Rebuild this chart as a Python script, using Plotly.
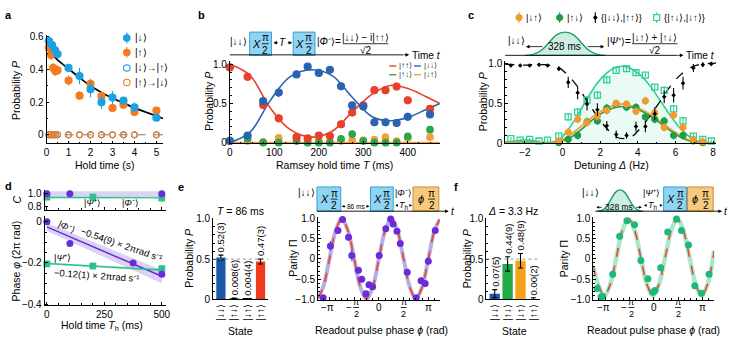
import math
import plotly.graph_objects as go

W, H = 735, 344
FONT = "Liberation Sans, Arial, Helvetica, sans-serif"
PI = math.pi

# ---------------- colours ----------------
A_BLUE, A_ORANGE = "#1ba1e2", "#f47b20"
B_RED, B_BLUE, B_GREEN, B_ORANGE = "#e8402a", "#2a64b0", "#2aa84a", "#f2a03a"
C_ORANGE, C_GREEN, C_TEAL = "#f29a2e", "#1f9e4a", "#2fcf93"
PURPLE, D_GREEN = "#6c2bd9", "#2dc08c"
BOX_BLUE, BOX_BLUE_EDGE = "#8fd4f2", "#2f9fd6"
BOX_OR, BOX_OR_EDGE = "#f7c97e", "#c98a2a"
BELL_FILL, BELL_EDGE = "#cdeee0", "#1f9f6a"
BAR_BLUE, BAR_GREEN, BAR_RED, BAR_ORANGE = "#1a5aa8", "#22aa44", "#f03a1e", "#f7a21c"
DASH_RED = "#f04424"

# ---------------- data : panel a ----------------
A_T_DOWN = [0.1, 0.25, 0.38, 0.5, 1.0, 1.5, 2.0, 2.5, 3.0, 3.5, 4.0, 5.0]
A_P_DOWN = [0.575, 0.55, 0.52, 0.495, 0.41, 0.36, 0.28, 0.20, 0.228, 0.21, 0.168, 0.105]
A_E_DOWN = [0.03, 0.04, 0.03, 0.02, 0.02, 0.05, 0.05, 0.04, 0.04, 0.02, 0.03, 0.02]
A_T_UP = [0.1, 0.2, 0.3, 0.4, 0.5, 1.0, 1.5, 2.0, 2.5, 3.0, 3.5, 4.0, 5.0]
A_P_UP = [0.535, 0.49, 0.41, 0.39, 0.396, 0.333, 0.24, 0.313, 0.238, 0.164, 0.184, 0.14, 0.149]
A_E_UP = [0.02, 0.03, 0.03, 0.03, 0.03, 0.03, 0.025, 0.03, 0.02, 0.015, 0.02, 0.015, 0.015]
A_T_FLIP = [0.1, 0.2, 0.3, 0.4, 0.5, 1.0, 1.5, 2.0, 2.5, 3.0, 3.5, 4.0, 5.0]
A_P_FLIP_DU = [0.0, 0.0, 0.0, 0.0, 0.0, 0.0, 0.0, 0.0, 0.0, 0.0, 0.0, 0.0, 0.0]
A_P_FLIP_UD = [0.0, 0.0, 0.0, 0.0, 0.0, 0.0, 0.0, 0.0, 0.0, 0.0, 0.0, 0.0, 0.0]
A_FIT_T = [0, 0.5, 1, 1.5, 2, 2.5, 3, 3.5, 4, 4.5, 5, 5.3]
A_FIT_P = [0.53, 0.46, 0.405, 0.35, 0.30, 0.26, 0.225, 0.195, 0.165, 0.14, 0.115, 0.10]
A_ZERO_T = [0, 5.3]
A_ZERO_P = [0, 0]

# ---------------- data : panel b ----------------
B_T = [0, 40, 75, 110, 150, 175, 200, 225, 250, 275, 300, 325, 350, 375, 400, 450]
B_UU = [0.96, 0.84, 0.48, 0.31, 0.07, 0.055, 0.09, 0.085, 0.235, 0.385, 0.475, 0.67, 0.67, 0.715, 0.54, 0.43]
B_UU_E = [0.03, 0.05, 0.05, 0.05, 0.04, 0.03, 0.04, 0.04, 0.05, 0.05, 0.05, 0.05, 0.05, 0.05, 0.04, 0.05]
B_DD = [0.02, 0.09, 0.53, 0.64, 0.87, 0.97, 0.89, 0.93, 0.72, 0.475, 0.46, 0.26, 0.26, 0.25, 0.33, 0.36]
B_DD_E = [0.02, 0.04, 0.05, 0.06, 0.04, 0.03, 0.04, 0.04, 0.05, 0.05, 0.05, 0.05, 0.05, 0.05, 0.05, 0.05]
B_UD = [0.03, 0.05, 0.0, 0.0, 0.02, 0.0, 0.0, 0.0, 0.05, 0.11, 0.02, 0.0, 0.0, 0.0, 0.08, 0.165]
B_DU = [0.02, 0.02, 0.01, 0.06, 0.06, 0.02, 0.03, 0.01, 0.02, 0.03, 0.03, 0.04, 0.07, 0.02, 0.06, 0.07]
B_SMALL_E = [0.02, 0.02, 0.01, 0.02, 0.02, 0.01, 0.02, 0.01, 0.02, 0.03, 0.02, 0.02, 0.02, 0.02, 0.03, 0.03]
B_FIT_T = [0, 45, 90, 135, 185, 230, 275, 320, 360, 400, 440, 472]
B_FIT_UU = [1.0, 0.86, 0.45, 0.17, 0.07, 0.145, 0.39, 0.62, 0.73, 0.69, 0.59, 0.5]
B_FIT_DD = [0.0, 0.13, 0.53, 0.84, 0.93, 0.855, 0.58, 0.33, 0.28, 0.32, 0.42, 0.5]
B_FIT_SMALL = [0, 0, 0, 0, 0, 0, 0, 0, 0, 0, 0, 0]

# ---------------- data : panel c ----------------
C_D = [-2.75, -2.25, -1.75, -1.25, -0.8, -0.2, 0.3, 0.8, 1.3, 1.85, 2.35, 2.85,
       3.4, 3.9, 4.4, 4.9, 5.4, 5.9, 6.4, 6.95, 7.45, 7.9]
C_BLACK = [0.97, 0.97, 0.97, 0.98, 0.97, 0.93, 0.76, 0.63, 0.49, 0.42, 0.22, 0.11,
           0.10, 0.21, 0.21, 0.37, 0.58, 0.60, 0.75, 0.94, 0.98, 0.99]
C_BLACK_E = [0.02, 0.02, 0.02, 0.02, 0.02, 0.03, 0.07, 0.08, 0.08, 0.08, 0.06, 0.05,
             0.04, 0.06, 0.07, 0.08, 0.08, 0.09, 0.08, 0.05, 0.03, 0.02]
C_TEALP = [0.06, 0.04, 0.05, 0.03, 0.04, 0.09, 0.33, 0.39, 0.54, 0.60, 0.79, 0.91,
           0.93, 0.88, 0.85, 0.70, 0.66, 0.43, 0.28, 0.09, 0.05, 0.03]
C_TEAL_E = [0.02, 0.02, 0.02, 0.02, 0.02, 0.03, 0.05, 0.05, 0.05, 0.05, 0.04, 0.03,
            0.03, 0.03, 0.03, 0.04, 0.05, 0.05, 0.05, 0.04, 0.03, 0.02]
C_ORANGEP = [None, None, None, None, None, 0.03, 0.14, 0.30, 0.26, 0.34, 0.41, 0.50,
             0.49, 0.40, 0.53, 0.38, 0.20, 0.35, 0.20, 0.05, 0.02, None]
C_GREENP = [None, None, None, None, None, 0.01, 0.05, 0.10, 0.27, 0.28, 0.44, 0.49,
            0.45, 0.45, 0.33, 0.30, 0.28, 0.10, 0.10, 0.03, 0.01, None]
C_SMALL_E = [0.03, 0.03, 0.03, 0.03, 0.03, 0.03, 0.04, 0.05, 0.05, 0.05, 0.05, 0.05,
             0.05, 0.05, 0.05, 0.05, 0.05, 0.05, 0.05, 0.03, 0.03, 0.03]
C_FIT_D = [-3.05, -2.5, -2.0, -1.5, -1.0, -0.5, -0.17, 0.32, 0.82, 1.32, 1.84, 2.37,
           2.86, 3.25, 3.65, 4.14, 4.67, 5.2, 5.72, 6.25, 6.77, 7.3, 7.8, 8.16]
C_FIT_TEAL = [0.02, 0.03, 0.045, 0.03, 0.01, 0.02, 0.05, 0.18, 0.36, 0.56, 0.75, 0.88,
              0.95, 0.96, 0.93, 0.85, 0.71, 0.53, 0.35, 0.19, 0.08, 0.02, 0.01, 0.0]
C_FIT_ORANGE = [0.01, 0.015, 0.02, 0.015, 0.005, 0.01, 0.03, 0.09, 0.18, 0.28, 0.37, 0.44,
                0.48, 0.49, 0.47, 0.43, 0.36, 0.27, 0.18, 0.10, 0.04, 0.01, 0.005, 0.0]
C_FIT_GREEN = [0.01, 0.015, 0.02, 0.015, 0.005, 0.005, 0.02, 0.06, 0.14, 0.24, 0.34, 0.41,
               0.45, 0.46, 0.45, 0.41, 0.34, 0.25, 0.16, 0.08, 0.03, 0.01, 0.0, 0.0]
C_FIT_BLACK = [0.985, 0.98, 0.975, 0.98, 0.98, 0.965, 0.94, 0.84, 0.70, 0.52, 0.34, 0.18,
               0.08, 0.06, 0.08, 0.19, 0.35, 0.53, 0.71, 0.85, 0.94, 0.985, 0.995, 1.0]

# ---------------- data : panel d ----------------
D_C_T_PHI = [0, 100, 500]
D_C_PHI = [1.0, 1.0, 1.0]
D_C_T_PSI = [0, 200, 500]
D_C_PSI = [0.95, 0.95, 0.935]
D_C_BAND_T = [0, 500, 500, 0]
D_C_BAND_PHI = [1.04, 1.04, 0.96, 0.96]
D_C_BAND_PSI = [0.965, 0.965, 0.92, 0.92]
D_C_LINE_T = [0, 500]
D_C_LINE_PSI = [0.945, 0.94]
D_T_PHI = [0, 100, 375, 500]
D_PHI = [0.0, -0.105, -0.2, -0.255]
D_T_PSI = [0, 200, 500]
D_PSI = [-0.205, -0.215, -0.228]
D_LINE_T = [0, 500]
D_LINE_PHI = [-0.025, -0.265]
D_LINE_PSI = [-0.203, -0.235]
D_BAND_T = [0, 500, 500, 0]
D_BAND_PHI = [-0.005, -0.235, -0.3, -0.045]
D_BAND_PSI = [-0.198, -0.228, -0.242, -0.208]

# ---------------- data : panel e ----------------
STATES = ["|↓↓⟩", "|↑↓⟩", "|↓↑⟩", "|↑↑⟩"]
E_VALS = [0.52, 0.008, 0.004, 0.47]
E_ERR = [0.03, 0.006, 0.004, 0.03]
E_LABELS = ["0.52(3)", "0.008(6)", "0.004(4)", "0.47(3)"]
E_PHI = [-3.54, -3.08, -2.6, -2.31, -1.93, -1.72, -1.30, -1.09, -0.82, -0.63, -0.40, 0.02,
         0.44, 0.75, 0.90, 1.15, 1.36, 1.80, 2.37, 2.68, 2.94, 3.14, 3.58]
E_PAR = [-0.96, 0.32, 0.70, 0.97, 0.53, 0.08, -0.28, -0.50, -0.86, -0.64, -0.69, 0.08,
         0.74, 0.98, 0.86, 0.68, 0.38, -0.33, -0.96, -0.54, -0.61, -0.06, 0.70]
E_PAR_E = [0.04, 0.12, 0.06, 0.04, 0.08, 0.14, 0.08, 0.08, 0.05, 0.08, 0.08, 0.08,
           0.06, 0.03, 0.05, 0.07, 0.08, 0.06, 0.04, 0.08, 0.09, 0.08, 0.06]
E_FIT_PHI = [-3.87, -3.53, -3.14, -2.75, -2.36, -1.96, -1.57, -1.18, -0.79, -0.39, 0.0,
             0.39, 0.78, 1.18, 1.57, 1.96, 2.35, 2.75, 3.14, 3.53, 3.87]
E_FIT = [-0.97, -0.69, 0.0, 0.69, 0.98, 0.69, 0.0, -0.69, -0.98, -0.69, 0.0,
         0.69, 0.98, 0.69, 0.0, -0.69, -0.98, -0.69, 0.0, 0.69, 0.97]

# ---------------- data : panel f ----------------
F_VALS = [0.07, 0.44, 0.48, 0.00]
F_ERR = [0.05, 0.09, 0.09, 0.02]
F_LABELS = ["0.07(5)", "0.44(9)", "0.48(9)", "0.00(2)"]
F_PHI = [-3.65, -3.40, -3.30, -2.65, -2.20, -1.73, -1.24, -0.83, -0.38, -0.06, 0.08,
         0.45, 0.90, 1.47, 1.79, 2.24, 2.65, 3.08, 3.57]
F_PAR = [-0.73, -0.94, -0.92, -0.38, 0.56, 0.94, 0.84, -0.04, -0.49, -0.82, -0.78,
         -0.22, 0.66, 0.98, 0.70, 0.34, -0.66, -0.85, -0.38]
F_PAR_E = [0.05, 0.04, 0.04, 0.05, 0.05, 0.03, 0.04, 0.05, 0.06, 0.05, 0.05,
           0.05, 0.05, 0.03, 0.05, 0.06, 0.05, 0.08, 0.06]
F_FIT_PHI = [-3.9, -3.6, -3.2, -2.8, -2.41, -2.02, -1.62, -1.23, -0.84, -0.45, -0.05,
             0.34, 0.74, 1.13, 1.52, 1.91, 2.31, 2.7, 3.09, 3.48, 3.9]
F_FIT = [-0.2, -0.62, -0.90, -0.62, 0.04, 0.70, 0.98, 0.70, 0.04, -0.62, -0.90,
         -0.62, 0.04, 0.70, 0.98, 0.70, 0.04, -0.62, -0.90, -0.62, 0.2]

# ---------------- helpers ----------------
shapes, annos = [], []


def px(x):
    return x / W


def py(y):
    return 1 - y / H


def text(x, y, s, size=10, color="black", xa="center", ya="middle", angle=0):
    annos.append(dict(x=px(x), y=py(y), xref="paper", yref="paper", text=s, showarrow=False,
                      xanchor=xa, yanchor=ya, textangle=angle, borderpad=0,
                      font=dict(size=size, color=color, family=FONT)))


def line(x0, y0, x1, y1, color="black", width=1, dash="solid"):
    shapes.append(dict(type="line", xref="paper", yref="paper", x0=px(x0), y0=py(y0),
                       x1=px(x1), y1=py(y1), line=dict(color=color, width=width, dash=dash)))


def rect(x0, y0, x1, y1, fill, edge, width=1):
    shapes.append(dict(type="rect", xref="paper", yref="paper", x0=px(x0), y0=py(y1),
                       x1=px(x1), y1=py(y0), fillcolor=fill, line=dict(color=edge, width=width)))


def circle(cx, cy, r, fill, edge, width=1):
    shapes.append(dict(type="circle", xref="paper", yref="paper", x0=px(cx - r), y0=py(cy + r),
                       x1=px(cx + r), y1=py(cy - r), fillcolor=fill, line=dict(color=edge, width=width)))


def arrow(xt, yt, xs, ys, color="black", width=0.8, size=0.9):
    annos.append(dict(x=px(xt), y=py(yt), xref="paper", yref="paper", text="",
                      showarrow=True, ax=xs - xt, ay=ys - yt, axref="pixel", ayref="pixel",
                      arrowhead=2, arrowsize=size, arrowwidth=width, arrowcolor=color,
                      standoff=0, startstandoff=0, font=dict(size=1)))


def frac(xc, yc, num, den, w, size=10):
    text(xc, yc - 6, num, size)
    line(xc - w / 2, yc, xc + w / 2, yc, width=0.8)
    text(xc, yc + 6.5, den, size)


def pbox(x0, y0, x1, y1, fill, edge, sym):
    rect(x0, y0, x1, y1, fill, edge)
    ym = (y0 + y1) / 2
    text(x0 + (x1 - x0) * 0.3, ym, f"<i>{sym}</i>", 11)
    frac(x0 + (x1 - x0) * 0.72, ym, "π", "2", 7, 10)


def bell(x0, x1, yb, yp, fill, edge):
    w = x1 - x0
    xm = (x0 + x1) / 2
    p = [(x0, yb), (x0 + 0.3 * w, yb), (xm - 0.2 * w, yp), (xm, yp),
         (xm + 0.2 * w, yp), (x1 - 0.3 * w, yb), (x1, yb)]
    q = [f"{px(a):.5f},{py(b):.5f}" for a, b in p]
    path = f"M {q[0]} C {q[1]} {q[2]} {q[3]} C {q[4]} {q[5]} {q[6]} Z"
    shapes.append(dict(type="path", xref="paper", yref="paper", path=path,
                       fillcolor=fill, line=dict(color=edge, width=1.4)))


def xa(x0, x1, rng, anchor, **kw):
    d = dict(domain=[x0 / W, x1 / W], range=rng, anchor=anchor, showline=True, linecolor="black",
             linewidth=0.8, ticks="inside", ticklen=3, tickwidth=0.8, tickcolor="black",
             showgrid=False, zeroline=False, fixedrange=True,
             tickfont=dict(size=10, family=FONT, color="black"))
    d.update(kw)
    return d


def ya(y0, y1, rng, anchor, **kw):
    d = dict(domain=[1 - y1 / H, 1 - y0 / H], range=rng, anchor=anchor, showline=True,
             linecolor="black", linewidth=0.8, ticks="inside", ticklen=3, tickwidth=0.8,
             tickcolor="black", showgrid=False, zeroline=False, fixedrange=True,
             tickfont=dict(size=10, family=FONT, color="black"))
    d.update(kw)
    return d


def minor(dt, t0=0):
    return dict(ticks="inside", ticklen=2, tickwidth=0.6, tickcolor="black", tickmode="linear",
                tick0=t0, dtick=dt)


fig = go.Figure()


def pts(x, y, err, color, ax, symbol="circle", size=7, lw=1.2, ecolor=None):
    fig.add_trace(go.Scatter(
        x=x, y=y, mode="markers", xaxis="x" + ax, yaxis="y" + ax,
        marker=dict(color=color, size=size, symbol=symbol, line=dict(color=color, width=lw)),
        error_y=(dict(type="data", array=err, color=ecolor or color, thickness=1.1, width=0)
                 if err is not None else None),
        cliponaxis=False, hoverinfo="skip"))


def curve(x, y, color, ax, width=1.5, dash="solid", shape="spline", fill=None, fillcolor=None):
    fig.add_trace(go.Scatter(
        x=x, y=y, mode="lines", xaxis="x" + ax, yaxis="y" + ax,
        line=dict(color=color, width=width, dash=dash, shape=shape, smoothing=1.0),
        fill=fill, fillcolor=fillcolor, hoverinfo="skip"))


# ================= panel a =================
curve(A_ZERO_T, A_ZERO_P, "#777777", "", width=1, dash="dash", shape="linear")
curve(A_FIT_T, A_FIT_P, "black", "", width=1.7)
pts(A_T_FLIP, A_P_FLIP_DU, None, A_BLUE, "", symbol="circle-open", size=6)
pts(A_T_FLIP, A_P_FLIP_UD, None, A_ORANGE, "", symbol="circle-open", size=6)
pts(A_T_UP, A_P_UP, A_E_UP, A_ORANGE, "")
pts(A_T_DOWN, A_P_DOWN, A_E_DOWN, A_BLUE, "")

# ================= panel b =================
curve(B_FIT_T, B_FIT_SMALL, B_ORANGE, "2", width=1.6, shape="linear")
curve(B_FIT_T, B_FIT_UU, B_RED, "2", width=1.6)
curve(B_FIT_T, B_FIT_DD, B_BLUE, "2", width=1.6)
pts(B_T, B_DU, B_SMALL_E, B_ORANGE, "2", size=6.5)
pts(B_T, B_UD, B_SMALL_E, B_GREEN, "2", size=6.5)
pts(B_T, B_UU, B_UU_E, B_RED, "2", size=7)
pts(B_T, B_DD, B_DD_E, B_BLUE, "2", size=7)

# ================= panel c =================
curve(C_FIT_D, C_FIT_TEAL, C_TEAL, "3", width=1.6, fill="tozeroy",
      fillcolor="rgba(47,207,147,0.10)")
curve(C_FIT_D, C_FIT_GREEN, C_GREEN, "3", width=1.6)
curve(C_FIT_D, C_FIT_ORANGE, C_ORANGE, "3", width=1.6)
curve(C_FIT_D, C_FIT_BLACK, "black", "3", width=1.3, dash="dash")
pts(C_D, C_TEALP, C_TEAL_E, C_TEAL, "3", symbol="square-open", size=6, lw=1.3)
pts(C_D, C_GREENP, C_SMALL_E, C_GREEN, "3", size=6)
pts(C_D, C_ORANGEP, C_SMALL_E, C_ORANGE, "3", size=6)
pts(C_D, C_BLACK, C_BLACK_E, "black", "3", symbol="diamond", size=3.5, lw=0)

# ================= panel d =================
fig.add_trace(go.Scatter(x=D_C_BAND_T, y=D_C_BAND_PHI, mode="lines", fill="toself",
                         fillcolor="rgba(150,130,220,0.35)", line=dict(width=0),
                         xaxis="x4", yaxis="y4", hoverinfo="skip"))
fig.add_trace(go.Scatter(x=D_C_BAND_T, y=D_C_BAND_PSI, mode="lines", fill="toself",
                         fillcolor="rgba(45,192,140,0.25)", line=dict(width=0),
                         xaxis="x4", yaxis="y4", hoverinfo="skip"))
curve(D_C_LINE_T, D_C_LINE_PSI, D_GREEN, "4", width=1.2, shape="linear")
pts(D_C_T_PSI, D_C_PSI, None, D_GREEN, "4", symbol="square", size=6, lw=0.8)
pts(D_C_T_PHI, D_C_PHI, None, PURPLE, "4", size=7, lw=0)

fig.add_trace(go.Scatter(x=D_BAND_T, y=D_BAND_PHI, mode="lines", fill="toself",
                         fillcolor="rgba(150,130,220,0.35)", line=dict(width=0),
                         xaxis="x5", yaxis="y5", hoverinfo="skip"))
fig.add_trace(go.Scatter(x=D_BAND_T, y=D_BAND_PSI, mode="lines", fill="toself",
                         fillcolor="rgba(45,192,140,0.25)", line=dict(width=0),
                         xaxis="x5", yaxis="y5", hoverinfo="skip"))
curve(D_LINE_T, D_LINE_PHI, PURPLE, "5", width=1.5, shape="linear")
curve(D_LINE_T, D_LINE_PSI, D_GREEN, "5", width=1.5, shape="linear")
pts(D_T_PSI, D_PSI, None, D_GREEN, "5", symbol="square", size=6, lw=0.8)
pts(D_T_PHI, D_PHI, None, PURPLE, "5", size=7, lw=0)

# ================= panel e =================
fig.add_trace(go.Bar(x=[0, 1, 2, 3], y=E_VALS, width=0.7, xaxis="x6", yaxis="y6",
                     marker=dict(color=[BAR_BLUE, BAR_GREEN, "black", BAR_RED], line=dict(width=0)),
                     error_y=dict(type="data", array=E_ERR, color="black", thickness=1.1, width=2.5),
                     hoverinfo="skip"))
curve(E_FIT_PHI, E_FIT, "#b3aee6", "7", width=4)
curve(E_FIT_PHI, E_FIT, DASH_RED, "7", width=1.6, dash="dash")
pts(E_PHI, E_PAR, E_PAR_E, PURPLE, "7", size=7, lw=0)

# ================= panel f =================
fig.add_trace(go.Bar(x=[0, 1, 2, 3], y=F_VALS, width=0.8, xaxis="x8", yaxis="y8",
                     marker=dict(color=[BAR_BLUE, BAR_GREEN, BAR_ORANGE, "black"], line=dict(width=0)),
                     error_y=dict(type="data", array=F_ERR, color="black", thickness=1.1, width=2.5),
                     hoverinfo="skip"))
curve(F_FIT_PHI, F_FIT, "#a8e8cc", "9", width=4.5)
curve(F_FIT_PHI, F_FIT, DASH_RED, "9", width=1.6, dash="dash")
pts(F_PHI, F_PAR, F_PAR_E, "#20b87a", "9", size=7, lw=0)

# ---------------- axes ----------------
lay = {}
lay["xaxis"] = xa(44, 162, [0, 5.32], "y", tickvals=[0, 1, 2, 3, 4, 5], minor=minor(0.5))
lay["yaxis"] = ya(31, 143, [-0.053, 0.612], "x", tickvals=[0, 0.2, 0.4, 0.6],
                  ticktext=["0", "0.2", "0.4", "0.6"], minor=minor(0.1))
lay["xaxis2"] = xa(229, 441, [0, 472], "y2", tickvals=[0, 100, 200, 300, 400], minor=minor(25))
lay["yaxis2"] = ya(58, 143, [-0.01, 1.04], "x2", tickvals=[0, 0.5, 1.0],
                   ticktext=["0", "0.5", "1.0"], minor=minor(0.1))
lay["xaxis3"] = xa(507, 720, [-3.05, 8.16], "y3", tickvals=[-2, 0, 2, 4, 6, 8],
                   ticktext=["−2", "0", "2", "4", "6", "8"], minor=minor(1))
lay["yaxis3"] = ya(58, 143, [0, 1.024], "x3", tickvals=[0, 0.5, 1.0],
                   ticktext=["0", "0.5", "1.0"], minor=minor(0.1))
lay["xaxis4"] = xa(42, 165, [-10, 520], "y4", tickvals=[0, 250, 500], showticklabels=False,
                   minor=minor(50))
lay["yaxis4"] = ya(191, 212, [0.75, 1.06], "x4", tickvals=[0.8, 1.0], ticktext=["0.8", "1.0"])
lay["xaxis5"] = xa(42, 165, [-10, 520], "y5", tickvals=[0, 250, 500], minor=minor(50))
lay["yaxis5"] = ya(218, 310, [-0.405, 0.028], "x5", tickvals=[0, -0.2, -0.4],
                   ticktext=["0", "−0.2", "−0.4"], minor=minor(0.05))
lay["xaxis6"] = xa(212, 268, [-0.6, 3.6], "y6", tickvals=[0, 1, 2, 3], ticktext=STATES,
                   tickangle=-90, ticks="")
lay["yaxis6"] = ya(220, 304, [0, 1.012], "x6", tickvals=[0, 0.5, 1.0],
                   ticktext=["0", "0.5", "1.0"], minor=minor(0.1))
lay["xaxis7"] = xa(318, 441, [-3.87, 3.87], "y7", tickvals=[-PI, -PI / 2, 0, PI / 2, PI],
                   showticklabels=False, minor=minor(PI / 8))
lay["yaxis7"] = ya(219.5, 305, [-1.02, 1.02], "x7", tickvals=[-1, -0.5, 0, 0.5, 1],
                   ticktext=["−1.0", "−0.5", "0", "0.5", "1.0"], minor=minor(0.1))
lay["xaxis8"] = xa(488, 542, [-0.65, 3.5], "y8", tickvals=[0, 1, 2, 3], ticktext=STATES,
                   tickangle=-90, ticks="")
lay["yaxis8"] = ya(220, 304, [0, 1.012], "x8", tickvals=[0, 0.5, 1.0],
                   ticktext=["0", "0.5", "1.0"], minor=minor(0.1))
lay["xaxis9"] = xa(596, 718, [-3.9, 3.9], "y9", tickvals=[-PI, -PI / 2, 0, PI / 2, PI],
                   showticklabels=False, minor=minor(PI / 8))
lay["yaxis9"] = ya(219.5, 305, [-1.02, 1.02], "x9", tickvals=[-1, -0.5, 0, 0.5, 1],
                   ticktext=["−1.0", "−0.5", "0", "0.5", "1.0"], minor=minor(0.1))

# ---------------- panel letters ----------------
for lx, ly, s in [(6, 10, "a"), (200, 10, "b"), (473, 10, "c"), (6, 187, "d"), (180, 188, "e"), (457, 188, "f")]:
    text(lx, ly, f"<b>{s}</b>", 11)

# ---------------- panel a texts / legend ----------------
text(13, 88, "Probability <i>P</i>", 10.5, angle=-90)
text(103, 165, "Hold time (s)", 10.5)
leg_a = [(34, A_BLUE, False, "|↓⟩"), (49, A_ORANGE, False, "|↑⟩"),
         (65, A_BLUE, True, "|↓⟩→|↑⟩"), (80, A_ORANGE, True, "|↑⟩→|↓⟩")]
for yy, col, hollow, lab in leg_a:
    if not hollow:
        line(125, yy - 5.5, 125, yy + 5.5, col, 1.1)
    circle(125, yy, 3.3, "white" if hollow else col, col, 1.1)
    text(132, yy, lab, 10, xa="left")

# ---------------- panel b texts ----------------
text(208, 100, "Probability <i>P</i>", 10.5, angle=-90)
text(335, 165, "Ramsey hold time <i>T</i> (ms)", 10.5)
text(238, 38, "|↓↓⟩", 10)
pbox(249, 28, 271, 52, BOX_BLUE, BOX_BLUE_EDGE, "X")
text(282.5, 39, "<i>T</i>", 10)
arrow(273, 39, 279, 39)
arrow(292, 39, 286, 39)
pbox(293, 28, 315, 52, BOX_BLUE, BOX_BLUE_EDGE, "X")
text(329, 38, "|<i>Φ</i>⁻⟩=", 10)
frac(366, 40, "|↓↓⟩ − i|↑↑⟩", "√2", 46, 10)
line(229, 51.5, 404, 51.5, width=0.9)
arrow(410, 51.5, 403, 51.5)
text(412, 52, "Time <i>t</i>", 10, xa="left")
for yy, c1, l1, c2, l2 in [(63, B_RED, "|↑↑⟩", B_BLUE, "|↓↓⟩"), (72, B_GREEN, "|↑↓⟩", B_ORANGE, "|↓↑⟩")]:
    line(390, yy, 397, yy, c1, 1.4)
    text(399, yy, l1, 8, color="#333333", xa="left")
    line(415, yy, 422, yy, c2, 1.4)
    text(424, yy, l2, 8, color="#333333", xa="left")

# ---------------- panel c texts ----------------
text(484, 100, "Probability <i>P</i>", 10.5, angle=-90)
text(614, 165, "Detuning <i>Δ</i> (Hz)", 10.5)
for mx, col, kind, lab, tx in [(521, C_ORANGE, "c", "|↓↑⟩", 527), (562, C_GREEN, "c", "|↑↓⟩", 568),
                               (598, "black", "d", "{|↓↓⟩,|↑↑⟩}", 603),
                               (660, C_TEAL, "s", "{|↑↓⟩,|↓↑⟩}", 666)]:
    line(mx, 7.5, mx, 18.5, col, 1.1)
    if kind == "c":
        circle(mx, 13, 3.2, col, col)
    elif kind == "d":
        circle(mx, 13, 1.6, "black", "black")
    else:
        shapes.append(dict(type="rect", xref="paper", yref="paper", x0=px(mx - 3), x1=px(mx + 3),
                           y0=py(16), y1=py(10), fillcolor="white", line=dict(color=col, width=1.2)))
    text(tx, 13, lab, 9.5, xa="left")
text(518, 37, "|↓↓⟩", 10)
bell(527, 608, 52, 28, BELL_FILL, BELL_EDGE)
text(567, 43, "328 ms", 10)
arrow(528, 43, 546, 43)
arrow(607, 43, 589, 43)
text(622, 38, "|<i>Ψ</i>⁺⟩=", 10)
frac(658, 40, "|↓↑⟩ + |↑↓⟩", "√2", 46, 10)
line(507, 52, 681, 52, width=0.9)
arrow(687, 52, 680, 52)
text(689, 52.5, "Time <i>t</i>", 10, xa="left")

# ---------------- panel d texts ----------------
text(14, 201, "<i>C</i>", 10.5, angle=-90)
text(13, 264, "Phase <i>φ</i> (2π rad)", 10.5, angle=-90)
text(100, 332, "Hold time <i>T</i><sub>h</sub> (ms)", 10.5)
text(90, 205, "|<i>Ψ</i>⁺⟩", 9)
text(129, 205, "|<i>Φ</i>⁻⟩", 9)
text(64, 229, "|<i>Φ</i>⁻⟩", 9.5, angle=25)
text(120, 247, "−0.54(9) × 2πrad s⁻¹", 9.5, angle=19)
text(60, 261, "|<i>Ψ</i>⁺⟩", 9.5)
text(95, 279, "−0.12(1) × 2πrad s⁻¹", 9.5, angle=4)

# ---------------- panel e texts ----------------
text(187, 262, "Probability <i>P</i>", 10.5, angle=-90)
text(240, 337, "State", 10.5)
text(240, 213, "<i>T</i> = 86 ms", 10.5)
shapes.append(dict(type="line", xref="paper", yref="y6", x0=px(212), x1=px(268), y0=0.5, y1=0.5,
                   line=dict(color="#999999", width=1, dash="dot")))
for i, (v, e, lab) in enumerate(zip(E_VALS, E_ERR, E_LABELS)):
    annos.append(dict(x=i, y=v + e + 0.02, xref="x6", yref="y6", text=lab, textangle=-90,
                      showarrow=False, xanchor="center", yanchor="bottom", borderpad=0,
                      font=dict(size=9.5, family=FONT, color="black")))
text(292, 262, "Parity Π", 10.5, angle=-90)
text(382, 336, "Readout pulse phase <i>ϕ</i> (rad)", 10.5)
text(306, 194, "|↓↓⟩", 10)
pbox(317, 188, 341, 213, BOX_BLUE, BOX_BLUE_EDGE, "X")
text(356, 208, "86 ms", 6.5)
arrow(342, 208, 347, 208, size=0.7)
arrow(370, 208, 365, 208, size=0.7)
pbox(371, 188, 394, 213, BOX_BLUE, BOX_BLUE_EDGE, "X")
text(404, 194, "|<i>Φ</i>⁻⟩", 9)
text(405, 207, "<i>T</i><sub>h</sub>", 9)
arrow(396, 207, 400, 207, size=0.7)
arrow(413, 207, 410, 207, size=0.7)
pbox(414, 188, 440, 213, BOX_OR, BOX_OR_EDGE, "ϕ")
line(317, 213, 446, 213, width=0.9)
arrow(450, 213, 444, 213)
text(454, 213, "<i>t</i>", 10)

# ---------------- panel f texts ----------------
text(468, 262, "Probability <i>P</i>", 10.5, angle=-90)
text(516, 337, "State", 10.5)
text(515, 213, "<i>Δ</i> = 3.3 Hz", 10.5)
shapes.append(dict(type="line", xref="paper", yref="y8", x0=px(488), x1=px(542), y0=0.5, y1=0.5,
                   line=dict(color="#999999", width=1, dash="dot")))
for i, (v, e, lab) in enumerate(zip(F_VALS, F_ERR, F_LABELS)):
    annos.append(dict(x=i, y=v + e + 0.02, xref="x8", yref="y8", text=lab, textangle=-90,
                      showarrow=False, xanchor="center", yanchor="bottom", borderpad=0,
                      font=dict(size=9.5, family=FONT, color="black")))
text(566, 262, "Parity Π", 10.5, angle=-90)
text(657, 336, "Readout pulse phase <i>ϕ</i> (rad)", 10.5)
text(593, 194, "|↓↓⟩", 10)
bell(600, 646, 213, 191, BELL_FILL, BELL_EDGE)
text(622, 209, "328 ms", 8.5)
arrow(599, 209, 606, 209, size=0.7)
arrow(645, 209, 638, 209, size=0.7)
text(655, 194, "|<i>Ψ</i>⁺⟩", 9)
text(656, 207, "<i>T</i><sub>h</sub>", 9)
arrow(647, 207, 651, 207, size=0.7)
arrow(666, 207, 662, 207, size=0.7)
pbox(667, 188, 690, 213, BOX_BLUE, BOX_BLUE_EDGE, "X")
pbox(691, 188, 717, 213, BOX_OR, BOX_OR_EDGE, "ϕ")
line(598, 213, 722, 213, width=0.9)
arrow(726, 213, 720, 213)
text(730, 213, "<i>t</i>", 10)


# ---------------- parity x tick labels ----------------
def parity_ticks(x0p, x1p, rng, yl):
    def m(v):
        return x0p + (v - rng[0]) / (rng[1] - rng[0]) * (x1p - x0p)
    text(m(-PI) - 2, yl, "−π", 10)
    text(m(0), yl, "0", 10)
    text(m(PI), yl, "π", 10)
    frac(m(-PI / 2) + 2, yl + 0.5, "π", "2", 6, 9)
    text(m(-PI / 2) - 5, yl, "−", 10)
    frac(m(PI / 2), yl + 0.5, "π", "2", 6, 9)


parity_ticks(318, 441, [-3.87, 3.87], 312)
parity_ticks(596, 718, [-3.9, 3.9], 312)

lay.update(dict(width=W, height=H, autosize=False, margin=dict(l=0, r=0, t=0, b=0),
                paper_bgcolor="white", plot_bgcolor="white", showlegend=False,
                font=dict(family=FONT, size=10, color="black"),
                shapes=shapes, annotations=annos, bargap=0.2))
fig.update_layout(**lay)

fig.write_html("out.html", config={"displayModeBar": False},
               post_script="document.body.style.margin='0';document.body.style.overflow='hidden';")
